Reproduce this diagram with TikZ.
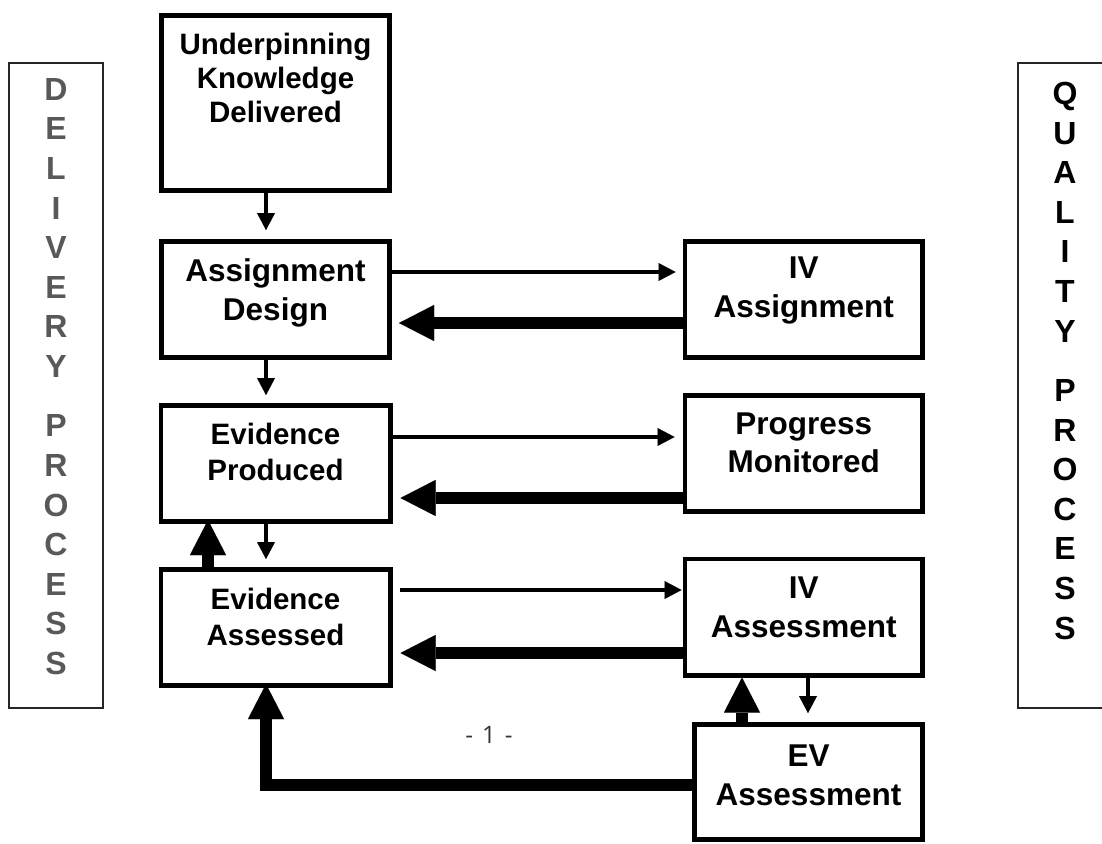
\documentclass[tikz,border=0pt]{standalone}
\usepackage{fontspec}
\setmainfont{Liberation Sans}[BoldFont={Liberation Sans Bold}]
\newfontfamily\pagefont{Open Sans}
\usetikzlibrary{arrows.meta}
\definecolor{dgray}{RGB}{89,89,89}
\begin{document}
\begin{tikzpicture}[x=1pt,y=-1pt,
  box/.style={draw, line width=4.7pt, inner sep=0pt, rectangle},
  boxtext/.style={anchor=north, align=center, inner sep=0pt},
  thinarrow/.style={line width=4.5pt, -{Triangle[length=17pt,width=18pt,line width=0.01pt]}},
  thickarrow/.style={line width=11.7pt, -{Triangle[length=35pt,width=36pt,line width=0.01pt]}},
  sidebox/.style={draw, line width=1.6pt, inner sep=0pt, rectangle, color=black!85},
  letters/.style={anchor=north, align=center, inner sep=0pt, font=\fontsize{32}{39.6}\selectfont\bfseries},
]
\useasboundingbox (0,0) rectangle (1102,843);

% side boxes
\node[sidebox, minimum width=94pt, minimum height=645pt] (dp) at (56,385.5) {};
\node[letters, text=dgray] (dpt) at (56,78) {D\\E\\L\\I\\V\\E\\R\\Y\\[19.8pt]P\\R\\O\\C\\E\\S\\S};
\node[sidebox, minimum width=94pt, minimum height=645pt] (qp) at (1065,385.5) {};
\node[letters, text=black] (qpt) at (1065,82) {Q\\U\\A\\L\\I\\T\\Y\\[19.8pt]P\\R\\O\\C\\E\\S\\S};

% left column boxes
\node[box, minimum width=228.3pt, minimum height=175.3pt] (ukd) at (275.5,103) {};
\node[boxtext, font=\fontsize{29.5}{34}\selectfont\bfseries] (ukdt) at (275.5,33) {Underpinning\\Knowledge\\Delivered};

\node[box, minimum width=228.3pt, minimum height=116.3pt] (ad) at (275.5,299.5) {};
\node[boxtext, font=\fontsize{31.5}{39}\selectfont\bfseries] (adt) at (275.5,258) {Assignment\\Design};

\node[box, minimum width=229.3pt, minimum height=116.3pt] (ep) at (275.5,463.5) {};
\node[boxtext, font=\fontsize{29.5}{36}\selectfont\bfseries] (ept) at (275.5,423) {Evidence\\Produced};

\node[box, minimum width=229.3pt, minimum height=116.3pt] (ea) at (275.5,627.5) {};
\node[boxtext, font=\fontsize{29.5}{36}\selectfont\bfseries] (eat) at (275.5,588) {Evidence\\Assessed};

% right column boxes
\node[box, minimum width=237.8pt, minimum height=116.3pt] (iva) at (803.75,299.5) {};
\node[boxtext, font=\fontsize{31.5}{39}\selectfont\bfseries] (ivat) at (803.75,257) {IV\\Assignment};

\node[box, minimum width=237.8pt, minimum height=116.3pt] (pm) at (803.75,453.5) {};
\node[boxtext, font=\fontsize{31.5}{38}\selectfont\bfseries] (pmt) at (803.75,413) {Progress\\Monitored};

\node[box, minimum width=237.8pt, minimum height=116.3pt] (ivs) at (803.75,617) {};
\node[boxtext, font=\fontsize{31.5}{39}\selectfont\bfseries] (ivst) at (803.75,577) {IV\\Assessment};

\node[box, minimum width=228.3pt, minimum height=115.3pt] (ev) at (808.5,782) {};
\node[boxtext, font=\fontsize{31.5}{39}\selectfont\bfseries] (evt) at (808.5,745) {EV\\Assessment};

% page number
\node[font=\pagefont\fontsize{24}{28}\selectfont, text=black!80] (pg) at (489,735) {-\hspace{9pt}1\hspace{9pt}-};

% vertical thin arrows
\draw[thinarrow, shorten >=9pt] (ukd.south -| 266,0) -- (ad.north -| 266,0);
\draw[thinarrow, shorten >=8pt] (ad.south -| 266,0) -- (ep.north -| 266,0);
\draw[thinarrow, shorten >=8pt] (ep.south -| 266,0) -- (ea.north -| 266,0);
\draw[thinarrow, shorten >=9pt] (ivs.south -| 808,0) -- (ev.north -| 808,0);

% vertical thick arrows
\draw[thickarrow, shorten >=-4pt] (ea.north -| 208,0) -- (ep.south -| 208,0);
\draw[thickarrow] (ev.north -| 742,0) -- (ivs.south -| 742,0);

% horizontal thin arrows
\draw[thinarrow, shorten >=7pt] (ad.east |- 0,272) -- (iva.west |- 0,272);
\draw[thinarrow, shorten >=8pt] (ep.east |- 0,437) -- (pm.west |- 0,437);
\draw[thinarrow, shorten <=7pt, shorten >=1pt] (ea.east |- 0,590) -- (ivs.west |- 0,590);

% horizontal thick arrows
\draw[thickarrow, shorten >=7pt] (iva.west |- 0,323) -- (ad.east |- 0,323);
\draw[thickarrow, shorten >=8pt] (pm.west |- 0,498) -- (ep.east |- 0,498);
\draw[thickarrow, shorten >=8pt] (ivs.west |- 0,653) -- (ea.east |- 0,653);

% EV to Evidence Assessed
\draw[thickarrow, shorten >=-4pt] (ev.west |- 0,785) -| (ea.south -| 266,0);
\end{tikzpicture}
\end{document}
